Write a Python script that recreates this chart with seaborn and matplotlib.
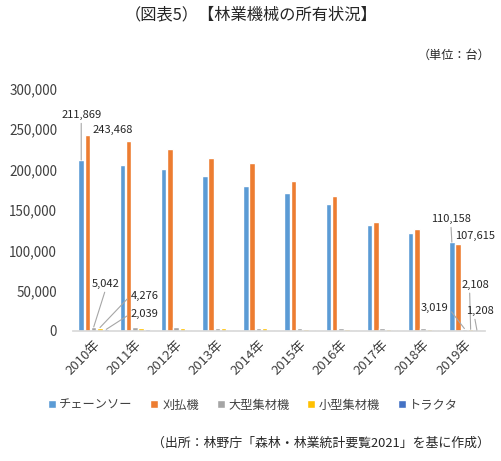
import numpy as np
import pandas as pd
import matplotlib
matplotlib.use("Agg")
import matplotlib.pyplot as plt
import seaborn as sns

years = ["2010年", "2011年", "2012年", "2013年", "2014年",
         "2015年", "2016年", "2017年", "2018年", "2019年"]
series_names = ["チェーンソー", "刈払機", "大型集材機", "小型集材機", "トラクタ"]
chainsaw = [211869, 206000, 201000, 192000, 180000, 171000, 157000, 131000, 122000, 110158]
mower = [243468, 236000, 226000, 215000, 208000, 186000, 167000, 135000, 126000, 107615]
large_yarder = [5042, 4700, 4500, 4300, 4100, 3900, 3700, 3500, 3300, 3019]
small_yarder = [4276, 4100, 3900, 3500, 3200, 3000, 2800, 2600, 2300, 2108]
tractor = [2039, 1900, 1800, 1700, 1600, 1500, 1400, 1350, 1300, 1208]
yticks = [0, 50000, 100000, 150000, 200000, 250000, 300000]
colors = ["#5B9BD5", "#ED7D31", "#A5A5A5", "#FFC000", "#4472C4"]

values = [chainsaw, mower, large_yarder, small_yarder, tractor]
rows = []
for name, vals in zip(series_names, values):
    for y, v in zip(years, vals):
        rows.append({"年": y, "機械": name, "台数": v})
df = pd.DataFrame(rows)

sns.set_theme(style="white")
plt.rcParams["font.family"] = ["Noto Sans CJK JP", "DejaVu Sans"]

fig = plt.figure(figsize=(5.01, 4.61), dpi=100)
fig.patch.set_facecolor("white")
ax = fig.add_axes([0.146, 0.282, 0.822, 0.525])

sns.barplot(data=df, x="年", y="台数", hue="機械", hue_order=series_names,
            order=years, palette=colors, width=0.76, gap=0.12, saturation=1,
            ax=ax)
handles, labels = ax.get_legend_handles_labels()
ax.get_legend().remove()

ax.set_ylim(0, 300000)
ax.set_xlim(-0.5, len(years) - 0.5)
ax.set_yticks(yticks)
ax.set_yticklabels([f"{t:,}" for t in yticks], fontsize=9.7, color="#404040")
ax.set_xlabel("")
ax.set_ylabel("")
for s in ["left", "top", "right"]:
    ax.spines[s].set_visible(False)
ax.spines["bottom"].set_color("#D9D9D9")
ax.tick_params(axis="both", length=0)
ax.tick_params(axis="y", pad=11.5)
ax.tick_params(axis="x", pad=5)
plt.setp(ax.get_xticklabels(), rotation=45, ha="right", rotation_mode="anchor",
         fontsize=9.5, color="#404040")

# data labels: (series, year index, offset px, relpos, leader line)
specs = [
    (0, 0, (0, 45), (0.5, 0), True),
    (1, 0, (25, 5), None, False),
    (2, 0, (12, 43), (0.5, 0), True),
    (3, 0, (44.5, 32), (0, 0.5), True),
    (4, 0, (38, 15.5), (0, 0.5), True),
    (0, 9, (-1, 23), (0.5, 0), True),
    (1, 9, (17, 8), None, False),
    (2, 9, (-30, 21), (1, 0.5), True),
    (3, 9, (4.5, 44.5), (0.3, 0), True),
    (4, 9, (3, 19), (0.3, 0), True),
]
for s, i, off, rp, line in specs:
    bar = ax.containers[s][i]
    x = bar.get_x() + bar.get_width() / 2
    y = bar.get_height()
    kw = {}
    if line:
        kw["arrowprops"] = dict(arrowstyle="-", color="#A6A6A6", lw=0.8,
                                shrinkA=0, shrinkB=0, relpos=rp)
    ax.annotate(f"{values[s][i]:,}", xy=(x, y), xytext=off,
                textcoords="offset pixels", ha="center", va="center",
                fontsize=8, color="#262626", **kw)

fig.legend(handles, labels, loc="center", bbox_to_anchor=(0.505, 1 - 405 / 461),
           ncol=5, frameon=False, fontsize=8.8, handlelength=0.65,
           handleheight=0.65, handletextpad=0.3, columnspacing=1.45,
           labelcolor="#404040")

fig.text(0.502, 1 - 15 / 461, "（図表5）【林業機械の所有状況】", ha="center",
         va="center", fontsize=11.7, color="#262626")
fig.text(490 / 501, 1 - 55 / 461, "（単位：台）", ha="right", va="center",
         fontsize=8.7, color="#262626")
fig.text(490 / 501, 1 - 443 / 461, "（出所：林野庁「森林・林業統計要覧2021」を基に作成）",
         ha="right", va="center", fontsize=9.3, color="#262626")

fig.savefig("out.png", dpi=100)
